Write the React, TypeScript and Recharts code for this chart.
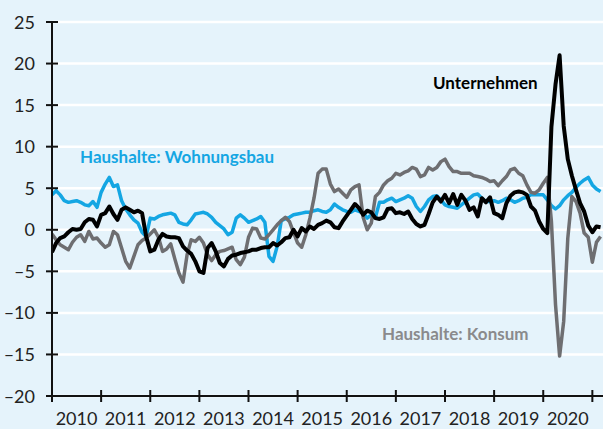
import { LineChart, Line, XAxis, YAxis, CartesianGrid } from "recharts";

// monthly, Jan 2010 .. Feb 2021
const wohnungsbau = [
  4.2, 4.7, 4.2, 3.5, 3.3, 3.4, 3.5, 3.3, 3.0, 2.9, 3.4, 2.7,
  4.5, 5.5, 6.3, 5.2, 5.4, 3.5, 2.5, 1.8, 1.2, 0.8, -0.3, -0.8,
  1.4, 1.3, 1.6, 1.8, 1.9, 2.0, 1.8, 0.9, 0.7, 0.6, 1.2, 1.9,
  2.0, 2.1, 1.9, 1.5, 0.9, 0.5, 0.1, -0.6, -0.3, 1.4, 1.8, 1.4,
  0.9, 1.1, 1.3, 1.6, 0.9, -3.2, -3.8, -2.0, 1.1, 1.3, 1.5, 1.8,
  1.9, 2.0, 2.1, 2.1, 2.3, 2.4, 2.2, 2.1, 2.4, 3.1, 2.7, 2.4,
  2.2, 2.1, 2.4, 2.2, 2.0, 1.4, 1.8, 1.5, 3.3, 3.3, 3.6, 3.8,
  3.4, 3.6, 3.8, 4.1, 3.8, 2.8, 2.2, 2.8, 3.6, 4.0, 4.1, 3.6,
  3.0, 2.8, 2.7, 2.6, 3.0, 3.4, 3.8, 4.2, 4.3, 3.8, 3.4, 3.4,
  3.5, 3.3, 3.5, 3.8, 3.6, 3.3, 3.5, 3.8, 3.9, 4.2, 4.2, 4.2,
  4.2, 3.6, 2.9, 2.5, 2.9, 3.6, 4.1, 4.5, 5.1, 5.6, 6.0, 6.3,
  5.4, 4.9, 4.6,
];

const konsum = [
  -0.5, -1.2, -1.8, -2.1, -2.4, -1.5, -0.9, -0.6, -1.4, -0.2, -1.1, -1.0,
  -1.6, -2.1, -1.8, -0.2, -0.6, -2.2, -3.8, -4.6, -3.2, -1.8, -1.3, -1.0,
  -0.5, 0.0, -0.9, -2.6, -2.3, -1.7, -3.5, -5.2, -6.3, -3.0, -1.2, -1.4,
  -0.9, -1.6, -3.0, -3.7, -3.0, -2.6, -2.5, -2.3, -2.1, -3.6, -4.2, -3.3,
  -0.9, 0.2, 0.1, -1.0, -1.1, -0.6, 0.0, 0.6, 1.1, 1.5, 1.0, -0.3,
  -1.6, -2.1, -0.6, 1.4, 3.8, 6.8, 7.3, 7.3, 5.5, 4.6, 4.9, 4.4,
  3.9, 4.8, 5.2, 5.4, 1.5, 0.0, 0.8, 4.0, 4.5, 5.4, 5.9, 6.2,
  6.8, 6.6, 6.9, 7.1, 7.5, 7.3, 6.4, 6.6, 7.5, 7.2, 7.5, 8.2,
  8.5, 7.6, 7.0, 7.0, 6.8, 6.8, 6.8, 6.5, 6.4, 6.3, 6.1, 5.8,
  5.9, 5.3, 5.9, 6.4, 7.2, 7.4, 6.8, 6.5, 5.4, 4.5, 4.4, 4.8,
  5.6, 6.3, 1.0, -9.0, -15.2, -11.0, -1.0, 4.0, 3.4, 2.0, -0.4, -0.9,
  -3.9, -1.5, -0.8,
];

const unternehmen = [
  -2.7, -1.6, -1.0, -0.8, -0.3, 0.1, 0.0, 0.1, 0.9, 1.3, 1.2, 0.4,
  1.8, 2.0, 2.8, 1.9, 1.2, 2.4, 2.7, 2.4, 2.1, 2.3, 2.0, -0.8,
  -2.6, -2.4, -1.2, -0.5, -0.8, -0.9, -0.9, -1.0, -2.0, -2.5, -2.9, -3.8,
  -5.0, -5.2, -2.2, -1.6, -2.6, -4.0, -4.4, -3.5, -3.1, -3.0, -2.8, -2.7,
  -2.6, -2.4, -2.4, -2.2, -2.1, -2.1, -1.6, -1.9, -1.5, -1.0, -0.9, 0.0,
  -0.8, 0.2, -0.2, 0.4, 0.1, 0.6, 0.8, 1.1, 0.9, 0.3, 0.2, 1.0,
  1.7, 2.4, 3.1, 2.6, 1.8, 2.3, 2.1, 1.4, 1.3, 1.5, 2.5, 2.6,
  2.0, 2.1, 1.9, 2.2, 1.3, 0.7, 0.4, 0.6, 1.9, 3.3, 4.0, 3.4,
  4.2, 3.2, 4.3, 3.0, 4.2, 3.5, 2.4, 2.7, 1.6, 3.8, 3.3, 3.9,
  2.0, 1.8, 1.4, 3.2, 4.1, 4.5, 4.6, 4.5, 4.2, 2.8, 2.3, 1.0,
  0.1, -0.4, 12.4, 17.5, 21.0, 12.5, 8.5, 6.5, 4.8, 3.2, 2.2, 0.5,
  -0.3, 0.4, 0.3,
];

const years = ["2010", "2011", "2012", "2013", "2014", "2015", "2016", "2017", "2018", "2019", "2020"];
const yTicks = [-20, -15, -10, -5, 0, 5, 10, 15, 20, 25];
const xTicks = [0, 12, 24, 36, 48, 60, 72, 84, 96, 108, 120, 132];

const data = wohnungsbau.map((v, i) => ({
  m: i,
  wohnungsbau: v,
  konsum: konsum[i],
  unternehmen: unternehmen[i],
}));

const W = 603;
const H = 429;
const LEFT = 52;
const TOP = 22;
const X_MAX = 134.6;
const AXIS_Y = 396;
const PX_PER_MONTH = (W - LEFT) / X_MAX;
const FONT = "Lato, 'DejaVu Sans', sans-serif";

function YTick(props: any) {
  const { y, payload } = props;
  const v = payload.value as number;
  const label = v < 0 ? `–${Math.abs(v)}` : String(v);
  return (
    <g>
      <line x1={LEFT - 6} x2={LEFT + 6} y1={y} y2={y} stroke="#111" strokeWidth={2} />
      <text x={35} y={y + 6.5} textAnchor="end" fontSize={18} fill="#222" fontFamily={FONT}>
        {label}
      </text>
    </g>
  );
}

function XTick(props: any) {
  const { x, payload } = props;
  const i = Math.round(payload.value / 12);
  return (
    <g>
      <line x1={x} x2={x} y1={AXIS_Y - 6} y2={AXIS_Y + 6} stroke="#111" strokeWidth={2} />
      {i < years.length && (
        <text x={x + 6 * PX_PER_MONTH} y={AXIS_Y + 29} textAnchor="middle" fontSize={18} fill="#222" fontFamily={FONT}>
          {years[i]}
        </text>
      )}
    </g>
  );
}

export default function App() {
  return (
    <div style={{ position: "absolute", left: 0, top: 0, width: W, height: H, background: "#e5f3fb", overflow: "hidden" }}>
      <LineChart width={W} height={H} data={data} margin={{ top: TOP, right: 0, left: 0, bottom: 0 }}>
        <CartesianGrid vertical={false} stroke="#ffffff" strokeWidth={2.5} />
        <XAxis
          dataKey="m"
          type="number"
          domain={[0, X_MAX]}
          ticks={xTicks}
          interval={0}
          allowDataOverflow
          height={H - AXIS_Y}
          axisLine={{ stroke: "#111", strokeWidth: 2 }}
          tickLine={false}
          tick={<XTick />}
        />
        <YAxis
          type="number"
          domain={[-20, 25]}
          ticks={yTicks}
          interval={0}
          width={LEFT}
          axisLine={{ stroke: "#111", strokeWidth: 2 }}
          tickLine={false}
          tick={<YTick />}
        />
        <Line dataKey="wohnungsbau" stroke="#14a6e3" strokeWidth={3.5} dot={false} isAnimationActive={false} strokeLinejoin="round" />
        <Line dataKey="konsum" stroke="#6e6e71" strokeWidth={3.5} dot={false} isAnimationActive={false} strokeLinejoin="round" />
        <Line dataKey="unternehmen" stroke="#000000" strokeWidth={4} dot={false} isAnimationActive={false} strokeLinejoin="round" />
      </LineChart>
      <svg width={W} height={H} style={{ position: "absolute", left: 0, top: 0, pointerEvents: "none" }}>
        <text x={80} y={163} fontSize={17} fontWeight={700} fill="#14a6e3" fontFamily={FONT}>
          Haushalte: Wohnungsbau
        </text>
        <text x={433} y={89} fontSize={17} fontWeight={700} fill="#000" fontFamily={FONT}>
          Unternehmen
        </text>
        <text x={382} y={340} fontSize={17} fontWeight={700} fill="#8a8a8c" fontFamily={FONT}>
          Haushalte: Konsum
        </text>
      </svg>
    </div>
  );
}
